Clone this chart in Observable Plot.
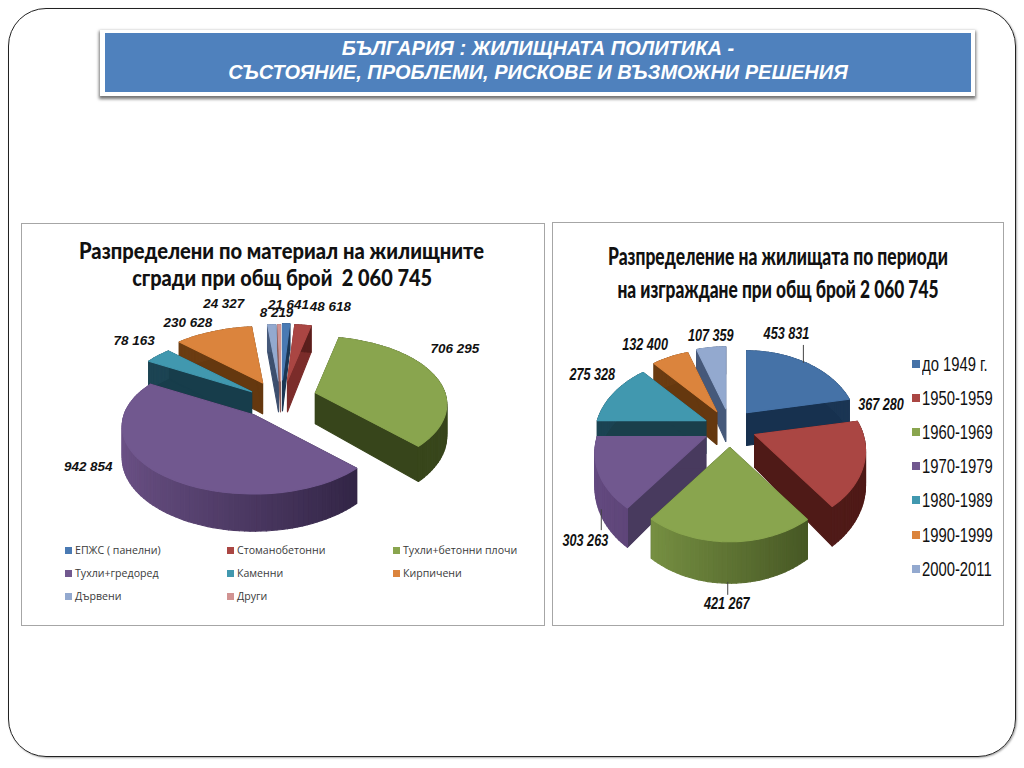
<!DOCTYPE html>
<html lang="bg">
<head>
<meta charset="utf-8">
<script src="https://cdn.jsdelivr.net/npm/d3@7"></script>
<script src="https://cdn.jsdelivr.net/npm/@observablehq/plot@0.6"></script>
<style>
html,body{margin:0;padding:0;background:#fff;}
body{width:1024px;height:768px;position:relative;overflow:hidden;}
#frame{position:absolute;left:8px;top:8px;width:1008px;height:749px;border:1px solid #222;border-radius:38px;box-shadow:1px 1px 2px rgba(0,0,0,.35);box-sizing:border-box;}
#head{position:absolute;left:100px;top:30px;width:875px;height:66px;background:#fff;box-shadow:0 2px 3px 1px rgba(0,0,0,.55);}
#bar{position:absolute;left:5px;top:3px;width:866px;height:59px;background:#4f81bd;color:#fff;text-align:center;font:italic bold 20px/24px "Liberation Sans",sans-serif;padding-top:3px;box-sizing:border-box;}
.panel{position:absolute;background:#fff;border:1.5px solid #a6a6a6;box-sizing:border-box;}
.panel svg{position:absolute;left:0;top:0;}
.ttl{position:absolute;color:#111;white-space:pre;display:inline-block;transform-origin:center;}
.lg{position:absolute;white-space:nowrap;transform-origin:left center;}
.lg i{position:absolute;display:block;}
</style>
</head>
<body>
<div id="frame"></div>
<div id="head"><div id="bar">БЪЛГАРИЯ : ЖИЛИЩНАТА ПОЛИТИКА -<br>СЪСТОЯНИЕ, ПРОБЛЕМИ, РИСКОВЕ И ВЪЗМОЖНИ РЕШЕНИЯ</div></div>
<div class="panel" id="pL" style="left:21px;top:223px;width:524px;height:403px"></div>
<div class="panel" id="pR" style="left:552px;top:222px;width:452px;height:404px"></div>
<script>
// ---- data ----
const materialNames = ["ЕПЖС ( панелни)","Стоманобетонни","Тухли+бетонни плочи","Тухли+гредоред","Каменни","Кирпичени","Дървени","Други"];
const materialValues = [21641,48618,706295,942854,78163,230628,24327,8219];
const periodNames = ["до 1949 г.","1950-1959","1960-1969","1970-1979","1980-1989","1990-1999","2000-2011"];
const periodValues = [453831,367280,421267,303263,275328,132400,107359];
const materialTitle = ["Разпределени по материал на жилищните","сгради при общ брой  2 060 745"];
const periodTitle = ["Разпределение на жилищата по периоди","на изграждане при общ брой 2 060 745"];

// ---- styling and layout, separate from the values ----
const topColors = {L:["#4a7ab3","#aa4643","#89a54e","#71588f","#4198af","#db843d","#93a9cf","#d19392"],
                   R:["#4572a7","#aa4643","#89a54e","#71588f","#4198af","#db843d","#93a9cf"]};
const wallLight = {L:["#1b3654","#5a1f1d","#3d4d1e","#6b5186","#1c4453","#6b3c12","#46597a","#8a5a58"],
                   R:["#1b3654","#4f1c1a","#86a24c","#644a80","#1c4453","#6b3c12","#46597a"]};
const wallDark  = {L:["#1b3654","#5a1f1d","#37451b","#281d3a","#1c4453","#6b3c12","#46597a","#8a5a58"],
                   R:["#1b3654","#4f1a17","#36441a","#4a3660","#1c4453","#6b3c12","#46597a"]};
const cutColors = {L:["#1b3654","#7b2c2a","#37451b","#2b203c","#173d4b","#65380f","#3d4f6e","#8a5a58"],
                   R:["#17314f","#4f1a17","#36441a","#483a5e","#1a3f4b","#65380f","#46597a"]};
const pieLeft = {key:"L",names:materialNames,values:materialValues,rx:130,ry:66,k:0.17,d:31,
  box:[21,545,223,626],centre:[283,400],
  shift:[[0,-20],[5,-19],[33,-7],[-29,15],[-31,-8],[-20,-17],[-4,-19],[-2,-19]],
  labelOff:[[6,-75],[43,-74],[140,-44],[-166,52],[-118,-51],[-75,-60],[-55,-77],[-4,-68]],
  order:[0,1,6,7,5,4,2,3],leaders:[],labelFont:"Liberation Sans",labelSize:13.5,labelSx:1};
const pieRight = {key:"R",names:periodNames,values:periodValues,rx:109,ry:75,k:0.208,d:33,
  box:[552,1004,222,626],centre:[725,430],
  shift:[[22,-17],[30,5],[5,18],[-19,7],[-19,-9],[-8,-18],[1,-21]],
  labelOff:[[40,-79],[127,-30],[-3,157],[-121,105],[-114,-46],[-72,-67],[-15,-73]],
  order:[6,5,0,4,1,3,2],leaders:[[0,57,-68,57,-50],[2,-2,135,-2,148],[3,-105,73,-105,94]],
  labelFont:"Liberation Sans",labelSize:16.5,labelSx:0.77};

const fmt = d3.formatLocale({decimal:".",thousands:" ",grouping:[3]}).format(",d");

function drawPie(c, host){
  const arcs = d3.pie().sort(null).value(d=>d)(c.values);
  const apex = i => [c.centre[0]+c.shift[i][0], c.centre[1]+c.shift[i][1]];
  const pt = (a,t,z)=>{const v=Math.cos(t),u=Math.sin(t),s=1/(1+c.k*v);
    return [a[0]+c.rx*u*s, a[1]-c.ry*v*s+z*c.d*s];};
  const rows=[]; let id=0;
  const poly=(pts,col)=>{id++;pts.forEach(p=>rows.push({id,x:p[0],y:p[1],col}));};
  for(const i of c.order){
    const a=apex(i), t0=arcs[i].startAngle, t1=arcs[i].endAngle;
    const n=Math.max(2,Math.ceil((t1-t0)/(Math.PI/90)));
    const ts=d3.range(n+1).map(j=>t0+(t1-t0)*j/n);
    const bot=[a[0],a[1]+c.d];
    for(const t of [t0,t1]) poly([a,pt(a,t,0),pt(a,t,1),bot],cutColors[c.key][i]);
    const mix=d3.interpolateRgb(wallLight[c.key][i],wallDark[c.key][i]);
    for(let j=0;j<n;j++){
      const tm=(Math.sin((ts[j]+ts[j+1])/2)+1)/2;
      poly([pt(a,ts[j],0),pt(a,ts[j+1],0),pt(a,ts[j+1],1),pt(a,ts[j],1)],mix(tm));
    }
    poly([a,...ts.map(t=>pt(a,t,0))],topColors[c.key][i]);
  }
  const labels=c.values.map((v,i)=>{const a=apex(i);
    return {text:fmt(v),x:a[0]+c.labelOff[i][0],y:a[1]+c.labelOff[i][1]};});
  const links=c.leaders.map(([i,x1,y1,x2,y2])=>{const a=apex(i);
    return {x1:a[0]+x1,y1:a[1]+y1,x2:a[0]+x2,y2:a[1]+y2};});
  const [x0,x1,y0,y1]=c.box;
  const chart=Plot.plot({
    width:x1-x0,height:y1-y0,margin:0,
    style:{background:"transparent"},
    x:{domain:[x0,x1],range:[0,x1-x0],axis:null},
    y:{domain:[y0,y1],range:[0,y1-y0],axis:null},
    color:{type:"identity"},
    marks:[
      Plot.line(rows,{x:"x",y:"y",z:"id",fill:"col",stroke:"col",strokeWidth:1.1,strokeLinejoin:"round",curve:"linear-closed"}),
      Plot.link(links,{x1:"x1",y1:"y1",x2:"x2",y2:"y2",stroke:"#444",strokeWidth:1}),
      Plot.text(labels,{x:"x",y:"y",text:"text",fill:"#111",fontSize:c.labelSize,fontWeight:"bold",fontStyle:"italic",fontFamily:c.labelFont})
    ]
  });
  if(c.labelSx!==1) chart.querySelectorAll("text").forEach(t=>{
    const tr=t.getAttribute("transform");
    if(tr) t.setAttribute("transform",`${tr} scale(${c.labelSx},1)`);
  });
  chart.style.left="-1.5px"; chart.style.top="-1.5px";
  host.appendChild(chart);
}

// text block fitted to the width it has in the reference
function addTitle(host,text,cx,y,target,font){
  const e=document.createElement("div");e.className="ttl";e.textContent=text;
  e.style.font=font;host.appendChild(e);
  const w=e.getBoundingClientRect().width;
  e.style.left=(cx-w/2)+"px";e.style.top=y+"px";e.style.transform=`scaleX(${target/w})`;
}
function addLegend(host,name,col,sw,sy,ss,tx,ty,font,color,sx){
  const s=document.createElement("i");s.className="lg";
  s.style.cssText=`left:${sw}px;top:${sy}px;width:${ss}px;height:${ss}px;background:${col};`;
  host.appendChild(s);
  const t=document.createElement("div");t.className="lg";t.textContent=name;
  t.style.cssText=`left:${tx}px;top:${ty}px;font:${font};color:${color};transform:scaleX(${sx});`;
  host.appendChild(t);
}

const pL=document.getElementById("pL"),pR=document.getElementById("pR");
drawPie(pieLeft,pL); drawPie(pieRight,pR);

const fL='900 23px/26px Lato,sans-serif', fR='900 25px/30px Lato,sans-serif';
addTitle(pL,materialTitle[0],260,13,405,fL);
addTitle(pL,materialTitle[1],260,40,300,fL);
addTitle(pR,periodTitle[0],225,17,340,fR);
addTitle(pR,periodTitle[1],225,50,321,fR);

const colL=[[43,53],[205,215],[371,381]], rowL=[322,345,368];
materialNames.forEach((n,i)=>{const r=Math.floor(i/3),q=i%3;
  addLegend(pL,n,topColors.L[i],colL[q][0],rowL[r]+1,7,colL[q][1],rowL[r]-3,'10.6px/14px "Open Sans",sans-serif',"#3a3a3a",1);});
periodNames.forEach((n,i)=>{const y=[141,175,209,243,277,312,346][i];
  addLegend(pR,n,topColors.R[i],359,y-4,8,369,y-12,'20px/24px "Liberation Sans",sans-serif',"#111",0.74);});
</script>
</body>
</html>
